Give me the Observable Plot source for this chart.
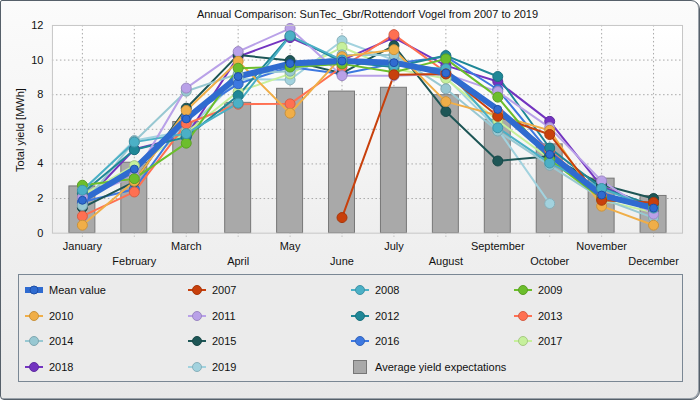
<!DOCTYPE html>
<html><head><meta charset="utf-8">
<script src="https://cdn.jsdelivr.net/npm/d3@7"></script>
<script src="https://cdn.jsdelivr.net/npm/@observablehq/plot@0.6"></script>
<style>
body{margin:0;background:#fff;}
#wrap{position:relative;width:700px;height:400px;box-sizing:border-box;border:1px solid #56606a;border-radius:2px 9px 9px 4px;background:linear-gradient(#fbfbfb,#e8e8e8);overflow:hidden;font-family:"Liberation Sans",Arial,sans-serif;color:#111;box-shadow:inset -1px -1px 0 #9aa2aa;}
#title{position:absolute;left:51px;width:631px;top:7px;text-align:center;font-size:11px;}
#plotbg{position:absolute;left:51px;top:24px;width:631px;height:208px;background:linear-gradient(#ffffff,#eeeeee);}
#chart{position:absolute;left:-1px;top:-1px;}
#ylab{position:absolute;left:19px;top:129px;transform:translate(-50%,-50%) rotate(-90deg);font-size:11px;white-space:nowrap;}
#legend{position:absolute;left:17px;top:273px;width:665px;height:108px;box-sizing:border-box;border:1px solid #7a8794;background:#ebebeb;}
.li{position:absolute;display:flex;align-items:center;font-size:11px;height:16px;}
.li svg{margin-right:6px;}
</style>
</head><body>
<div id="wrap">
  <div id="plotbg"></div>
  <div id="chart"></div>
  <div id="title">Annual Comparison: SunTec_Gbr/Rottendorf Vogel from 2007 to 2019</div>
  <div id="ylab">Total yield [MWh]</div>
  <div id="legend"></div>
</div>
<script>
const months = ["January","February","March","April","May","June","July","August","September","October","November","December"];
const yTicks = [0, 2, 4, 6, 8, 10, 12];
const expectation = [2.7, 4.07, 6.42, 7.53, 8.34, 8.18, 8.4, 7.97, 6.55, 5.13, 3.15, 2.15];
const meanValue = [1.9, 3.7, 6.6, 9.05, 9.8, 9.95, 9.85, 9.25, 7.15, 4.55, 2.2, 1.45];
const years = ["2007","2008","2009","2010","2011","2012","2013","2014","2015","2016","2017","2018","2019"];
const y2007 = [null, null, null, null, null, 0.9, 9.15, 9.2, 6.75, 5.7, 1.9, 1.77];
const y2008 = [2.48, 5.26, 5.75, 7.51, 11.4, 10.0, 9.68, 9.5, 6.09, 4.05, 2.58, 1.45];
const y2009 = [2.77, 3.15, 5.2, 9.53, 9.6, 9.78, 9.3, 10.07, 7.86, 4.25, 2.0, 1.5];
const y2010 = [0.46, 3.0, 7.09, 9.93, 6.93, 10.2, 10.6, 7.6, 6.8, 5.94, 1.56, 0.46];
const y2011 = [2.07, 3.3, 8.38, 10.49, 11.83, 9.1, 9.1, 9.2, 8.18, 6.1, 3.02, 1.1];
const y2012 = [2.3, 4.82, 5.55, 7.95, 11.41, 9.9, 9.6, 10.26, 9.05, 4.92, 2.6, 1.6];
const y2013 = [0.98, 2.38, 6.32, 7.45, 7.47, 9.6, 11.47, 9.3, 7.0, 4.8, 2.1, 1.4];
const y2014 = [1.6, 5.3, 8.2, 9.2, 9.36, 10.3, 10.3, 8.34, 5.9, 3.92, 2.0, 0.88];
const y2015 = [1.48, 2.96, 7.22, 10.3, 9.97, 9.24, 10.83, 7.03, 4.17, 4.45, 2.8, 2.0];
const y2016 = [1.8, 2.54, 6.67, 8.63, 9.6, 9.2, 9.8, 10.2, 8.3, 4.65, 2.19, 1.33];
const y2017 = [2.2, 3.9, 5.8, 8.18, 9.2, 10.74, 9.5, 8.93, 6.5, 4.3, 1.9, 1.2];
const y2018 = [1.7, 4.85, 5.6, 10.2, 11.3, 10.0, 11.3, 9.68, 8.76, 6.46, 2.7, 1.5];
const y2019 = [2.4, 5.35, 5.9, 8.9, 8.86, 11.12, 10.0, 9.0, 6.0, 1.71, null, null];
const yearValues = [y2007, y2008, y2009, y2010, y2011, y2012, y2013, y2014, y2015, y2016, y2017, y2018, y2019];
const yearColors = ["#c8400c","#4bb0c6","#6cbe2c","#f0ae48","#b9a1e8","#1f8797","#ff7052","#98c8d2","#1e5656","#3d78e0","#c6f09c","#7334c0","#a2d2de"];
const meanColor = "#2f6bd0";
const barFill = "#a9a9a9";

const series = years.map((name, i) => ({name, values: yearValues[i], color: yearColors[i]}));
const drawOrder = series.slice().reverse();
const defined = vals => vals.map((v, i) => i).filter(i => vals[i] != null);
const darker = c => d3.color(c).darker(0.5).formatHex();

const lineMarks = drawOrder.map(s => Plot.line(defined(s.values), {
  x: i => months[i], y: i => s.values[i], stroke: s.color, strokeWidth: 2
}));
const dotMarks = drawOrder.map(s => Plot.dot(defined(s.values), {
  x: i => months[i], y: i => s.values[i], r: 5, fill: s.color, stroke: darker(s.color), strokeWidth: 1
}));
const idx = months.map((m, i) => i);

const chart = Plot.plot({
  width: 700, height: 270,
  marginLeft: 52, marginRight: 17, marginTop: 25, marginBottom: 37,
  style: {background: "transparent", fontFamily: "Liberation Sans, Arial, sans-serif", fontSize: "11px", color: "#111"},
  x: {type: "band", domain: months, padding: 0},
  y: {domain: [0, 12]},
  marks: [
    Plot.gridY([2, 4, 6, 8, 10], {stroke: "#a8a8a8", strokeOpacity: 1, strokeDasharray: "1.5,2.5"}),
    Plot.gridX(months, {stroke: "#a8a8a8", strokeOpacity: 1, strokeDasharray: "1.5,2.5"}),
    Plot.barY(idx, {x: i => months[i], y: i => expectation[i], fill: barFill, stroke: "#777", strokeWidth: 1, insetLeft: 13, insetRight: 13}),
    ...lineMarks,
    Plot.line(idx, {x: i => months[i], y: i => meanValue[i], stroke: meanColor, strokeWidth: 6, strokeLinejoin: "round"}),
    ...dotMarks,
    Plot.dot(idx, {x: i => months[i], y: i => meanValue[i], r: 4, fill: meanColor, stroke: "#1e4fa8", strokeWidth: 1}),
    Plot.frame({stroke: "#c6c6c6"}),
    Plot.axisY({ticks: yTicks, tickSize: 0, tickPadding: 9, label: null, fontSize: 11}),
    Plot.axisX({ticks: months, tickSize: 5, tickFormat: () => "", label: null, stroke: "#aaa", strokeDasharray: "1,2"}),
    Plot.axisX({ticks: months.filter((m, i) => i % 2 === 0), tickSize: 0, tickPadding: 9, label: null, fontSize: 11}),
    Plot.axisX({ticks: months.filter((m, i) => i % 2 === 1), tickSize: 0, tickPadding: 24, label: null, fontSize: 11})
  ]
});
document.getElementById("chart").appendChild(chart);

// Legend
const legendItems = [{name: "Mean value", color: meanColor, mean: true}, ...series.map(s => ({name: s.name, color: s.color})), {name: "Average yield expectations", bar: true}];
const legend = document.getElementById("legend");
legendItems.forEach((it, k) => {
  const col = k % 4, row = Math.floor(k / 4);
  const el = document.createElement("div");
  el.className = "li";
  el.style.left = (6 + col * 163) + "px";
  el.style.top = (7 + row * 25.7) + "px";
  let icon;
  if (it.bar) {
    icon = `<svg width="18" height="16"><rect x="2.5" y="1.5" width="13" height="13" fill="${barFill}" stroke="#777"/></svg>`;
  } else if (it.mean) {
    icon = `<svg width="18" height="16"><line x1="0" x2="18" y1="8" y2="8" stroke="${it.color}" stroke-width="6"/><circle cx="9" cy="8" r="4" fill="${it.color}" stroke="#1e4fa8"/></svg>`;
  } else {
    icon = `<svg width="18" height="16"><line x1="0" x2="18" y1="8" y2="8" stroke="${it.color}" stroke-width="2"/><circle cx="9" cy="8" r="4.5" fill="${it.color}" stroke="${darker(it.color)}"/></svg>`;
  }
  el.innerHTML = icon + `<span>${it.name}</span>`;
  legend.appendChild(el);
});
</script>
</body></html>
